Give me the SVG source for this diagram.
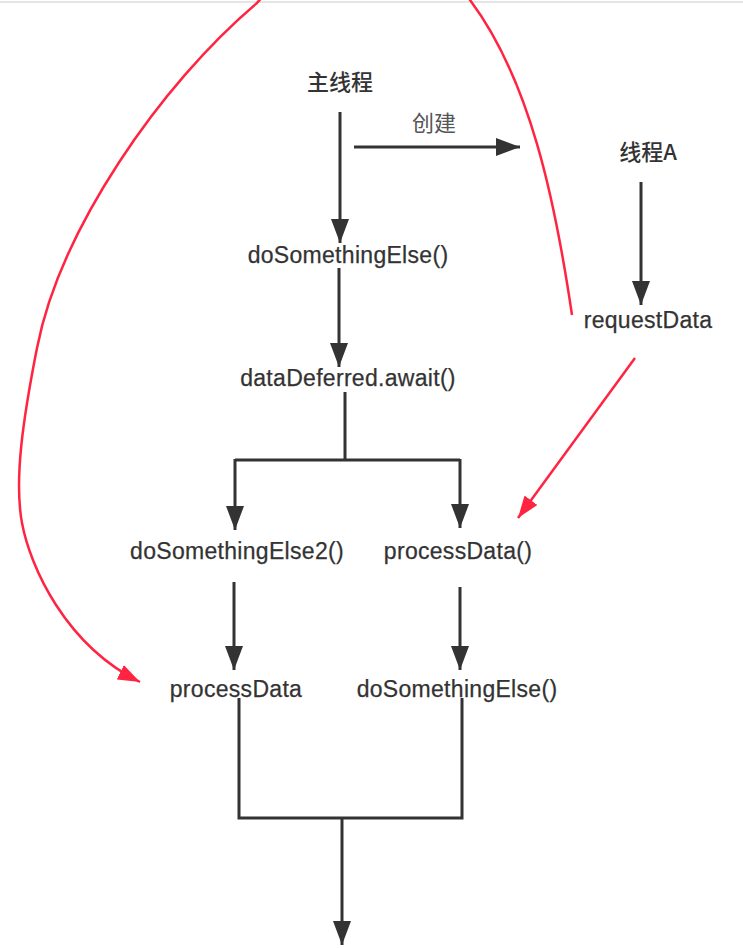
<svg xmlns="http://www.w3.org/2000/svg" width="743" height="948" viewBox="0 0 743 948">
  <style>
    .lbl { font-family: "Liberation Sans", "Noto Sans CJK SC", sans-serif; font-size: 23px; fill: #333; text-anchor: middle; letter-spacing: 0.3px; stroke: #333; stroke-width: 0.25; }
    .cjk { font-family: "Noto Sans CJK SC", "Liberation Sans", sans-serif; font-size: 22px; font-weight: 500; fill: #333; text-anchor: middle; }
    .edge { fill: none; stroke: #333; stroke-width: 3; }
    .red { fill: none; stroke: #ff2442; stroke-width: 2.5; }
  </style>
  <defs>
    <marker id="ah" markerUnits="userSpaceOnUse" markerWidth="24" markerHeight="18" refX="24" refY="9" orient="auto">
      <path d="M0,0 L24,9 L0,18 z" fill="#333"/>
    </marker>
    <marker id="ahr" markerUnits="userSpaceOnUse" markerWidth="22" markerHeight="16" refX="22" refY="8" orient="auto">
      <path d="M0,0 L22,8 L0,16 z" fill="#ff2442"/>
    </marker>
  </defs>
  <rect x="0" y="0" width="743" height="948" fill="#fff"/>
  <line x1="0" y1="2" x2="743" y2="2" stroke="#dcdcdc" stroke-width="1.5"/>

  <g id="connectors">
    <line class="edge" x1="340" y1="112" x2="340" y2="243" marker-end="url(#ah)"/>
    <line class="edge" x1="354" y1="147" x2="520" y2="147" marker-end="url(#ah)"/>
    <line class="edge" x1="339" y1="268" x2="339" y2="367" marker-end="url(#ah)"/>
    <polyline class="edge" points="345,392 345,460"/>
    <polyline class="edge" points="235,460 460,460"/>
    <line class="edge" x1="235" y1="459" x2="235" y2="530" marker-end="url(#ah)"/>
    <line class="edge" x1="460" y1="459" x2="460" y2="528" marker-end="url(#ah)"/>
    <line class="edge" x1="641" y1="182" x2="641" y2="305" marker-end="url(#ah)"/>
    <line class="edge" x1="234" y1="582" x2="234" y2="670" marker-end="url(#ah)"/>
    <line class="edge" x1="460" y1="587" x2="460" y2="670" marker-end="url(#ah)"/>
    <polyline class="edge" points="239,698 239,818 462,818 462,698"/>
    <line class="edge" x1="342" y1="818" x2="342" y2="945" marker-end="url(#ah)"/>
    <line class="red" x1="635" y1="358" x2="518" y2="518" marker-end="url(#ahr)"/>
    <path class="red" d="M572,315 C555,200 530,80 470,0 C420,-70 310,-60 257,3 C160,85 60,230 37,348 C23,419 14,480 22,523 C30,566 65,645 140,682" marker-end="url(#ahr)"/>
  </g>

  <g id="main-thread"><text class="cjk" x="340" y="90">主线程</text></g>
  <g id="create-label"><text class="cjk" x="434" y="131" style="fill:#555;font-weight:400">创建</text></g>
  <g id="thread-a"><text class="cjk" x="648" y="160">线程A</text></g>
  <g id="do-something-else"><text class="lbl" x="348" y="263">doSomethingElse()</text></g>
  <g id="data-deferred-await"><text class="lbl" x="348" y="386">dataDeferred.await()</text></g>
  <g id="request-data"><text class="lbl" x="648" y="328">requestData</text></g>
  <g id="do-something-else2"><text class="lbl" x="237" y="559">doSomethingElse2()</text></g>
  <g id="process-data-call"><text class="lbl" x="458" y="559">processData()</text></g>
  <g id="process-data"><text class="lbl" x="236" y="697">processData</text></g>
  <g id="do-something-else-b"><text class="lbl" x="457" y="697">doSomethingElse()</text></g>
</svg>
